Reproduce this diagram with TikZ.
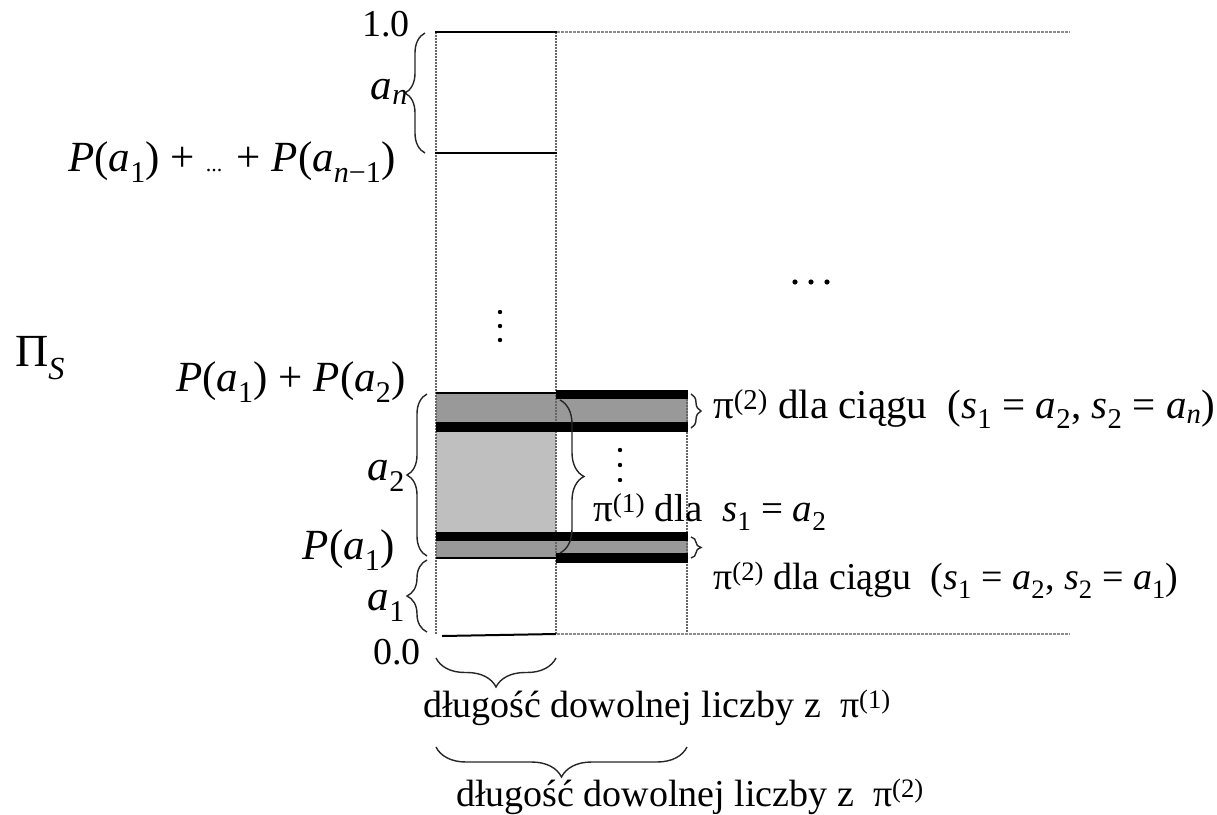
\documentclass[tikz,border=0pt]{standalone}
\usepackage{fontspec}
\setmainfont{Liberation Serif}
\usetikzlibrary{decorations.pathreplacing}
\newcommand\mv[1]{\textit{#1}}
\newcommand\sbx[1]{\textsubscript{#1}}
\newcommand\spx[1]{\textsuperscript{#1}}
\begin{document}
\begin{tikzpicture}[x=1pt,y={(0pt,-1pt)},
  mathlbl/.style={inner sep=0pt, font=\fontsize{43}{48}\selectfont},
  numlbl/.style={inner sep=0pt, font=\fontsize{38}{44}\selectfont},
  sidelbl/.style={inner sep=0pt, font=\fontsize{41}{46}\selectfont},
  botlbl/.style={inner sep=0pt, font=\fontsize{38}{44}\selectfont},
  solidln/.style={line width=2pt},
  dotv/.style={dash pattern=on 1.5pt off 1.5pt, line width=1.3pt, black!60},
  doth/.style={dash pattern=on 2.5pt off 1.5pt, line width=2pt, black!45},
  bar/.style={fill=black},
  dg/.style={fill=black!40},
  lg/.style={fill=black!25},
  brc/.style={decorate, decoration={brace, amplitude=#1}, line width=1.4pt, black!85},
  dotmark/.style={fill=black}]
\useasboundingbox (0,0) rectangle (1217,814);

% grey fills
\fill[dg] (436,393) rectangle (556,422);
\fill[dg] (556,399) rectangle (688,422);
\fill[lg] (436,432) rectangle (556,532);
\fill[dg] (436,541) rectangle (556,557);
\fill[dg] (556,541) rectangle (688,553);

% dotted guide lines
\draw[dotv] (436,32) -- (436,634);
\draw[dotv] (556,32) -- (556,634);
\draw[dotv] (687,390) -- (687,634);
\draw[doth] (557,32) -- (1070,32);
\draw[doth] (557,634) -- (1070,634);

% black bars
\fill[bar] (556,390) rectangle (688,399);
\fill[bar] (436,422) rectangle (688,432);
\fill[bar] (436,532) rectangle (688,541);
\fill[bar] (556,553) rectangle (688,563);

% solid lines
\draw[solidln] (435,32) -- (557,32);
\draw[solidln] (435,153) -- (557,153);
\draw[line width=1.3pt] (436,393) -- (556,393);
\draw[line width=1.5pt] (436,558) -- (556,558);
\draw[solidln] (442,636) -- (556,634);

% braces
\draw[brc=20pt] (425,153) -- (425,33);
\draw[brc=20pt] (427,556) -- (427,394);
\draw[brc=20pt] (427,632) -- (427,560);
\draw[brc=24pt] (560,400) -- (560,553);
\draw[brc=10pt] (691,394) -- (691,428);
\draw[brc=10pt] (691,537) -- (691,558);
\draw[brc=29pt] (556,658) -- (436,658);
\draw[brc=30pt] (687,747) -- (436,747);

% dots
\foreach \yy in {312,326,340} \fill[dotmark] (500,\yy) circle (2.2pt);
\foreach \yy in {450,465,480} \fill[dotmark] (620,\yy) circle (2.2pt);
\foreach \xx in {795,811,827} \fill[dotmark] (\xx,282) circle (2.6pt);

% labels
\node[numlbl, anchor=east] (one) at (410,24) {1.0};
\node[mathlbl, anchor=east] (an) at (408,92) {\mv{a}\sbx{\mv{n}}};
\node[mathlbl, anchor=east] (psum) at (396,162) {\mv{P}(\mv{a}\sbx{1}) + {\fontsize{22}{22}\selectfont ...} + \mv{P}(\mv{a}\sbx{\mv{n}−1})};
\node[inner sep=0pt, anchor=west, font=\fontsize{46}{50}\selectfont] (pis) at (15,358) {Π\sbx{\mv{S}}};
\node[mathlbl, anchor=east] (p12) at (406,382) {\mv{P}(\mv{a}\sbx{1}) + \mv{P}(\mv{a}\sbx{2})};
\node[mathlbl, anchor=east] (a2) at (405,476) {\mv{a}\sbx{2}};
\node[mathlbl, anchor=east] (pa1) at (395,550) {\mv{P}(\mv{a}\sbx{1})};
\node[mathlbl, anchor=east] (a1) at (405,606) {\mv{a}\sbx{1}};
\node[numlbl, anchor=east] (zero) at (421,652) {0.0};

\node[sidelbl, anchor=west] (top2) at (713,409) {π\spx{(2)} dla ciągu \ (\mv{s}\sbx{1} = \mv{a}\sbx{2}, \mv{s}\sbx{2} = \mv{a}\sbx{\mv{n}})};
\node[numlbl, font=\fontsize{39}{44}\selectfont, anchor=west] (mid1) at (593,512) {π\spx{(1)} dla \ \mv{s}\sbx{1} = \mv{a}\sbx{2}};
\node[sidelbl, font=\fontsize{38}{44}\selectfont, anchor=west] (bot2) at (713,580) {π\spx{(2)} dla ciągu \ (\mv{s}\sbx{1} = \mv{a}\sbx{2}, \mv{s}\sbx{2} = \mv{a}\sbx{1})};

\node[botlbl, anchor=west] (len1) at (423,708) {długość dowolnej liczby z \ π\spx{(1)}};
\node[botlbl, anchor=west] (len2) at (456,797) {długość dowolnej liczby z \ π\spx{(2)}};
\end{tikzpicture}
\end{document}
